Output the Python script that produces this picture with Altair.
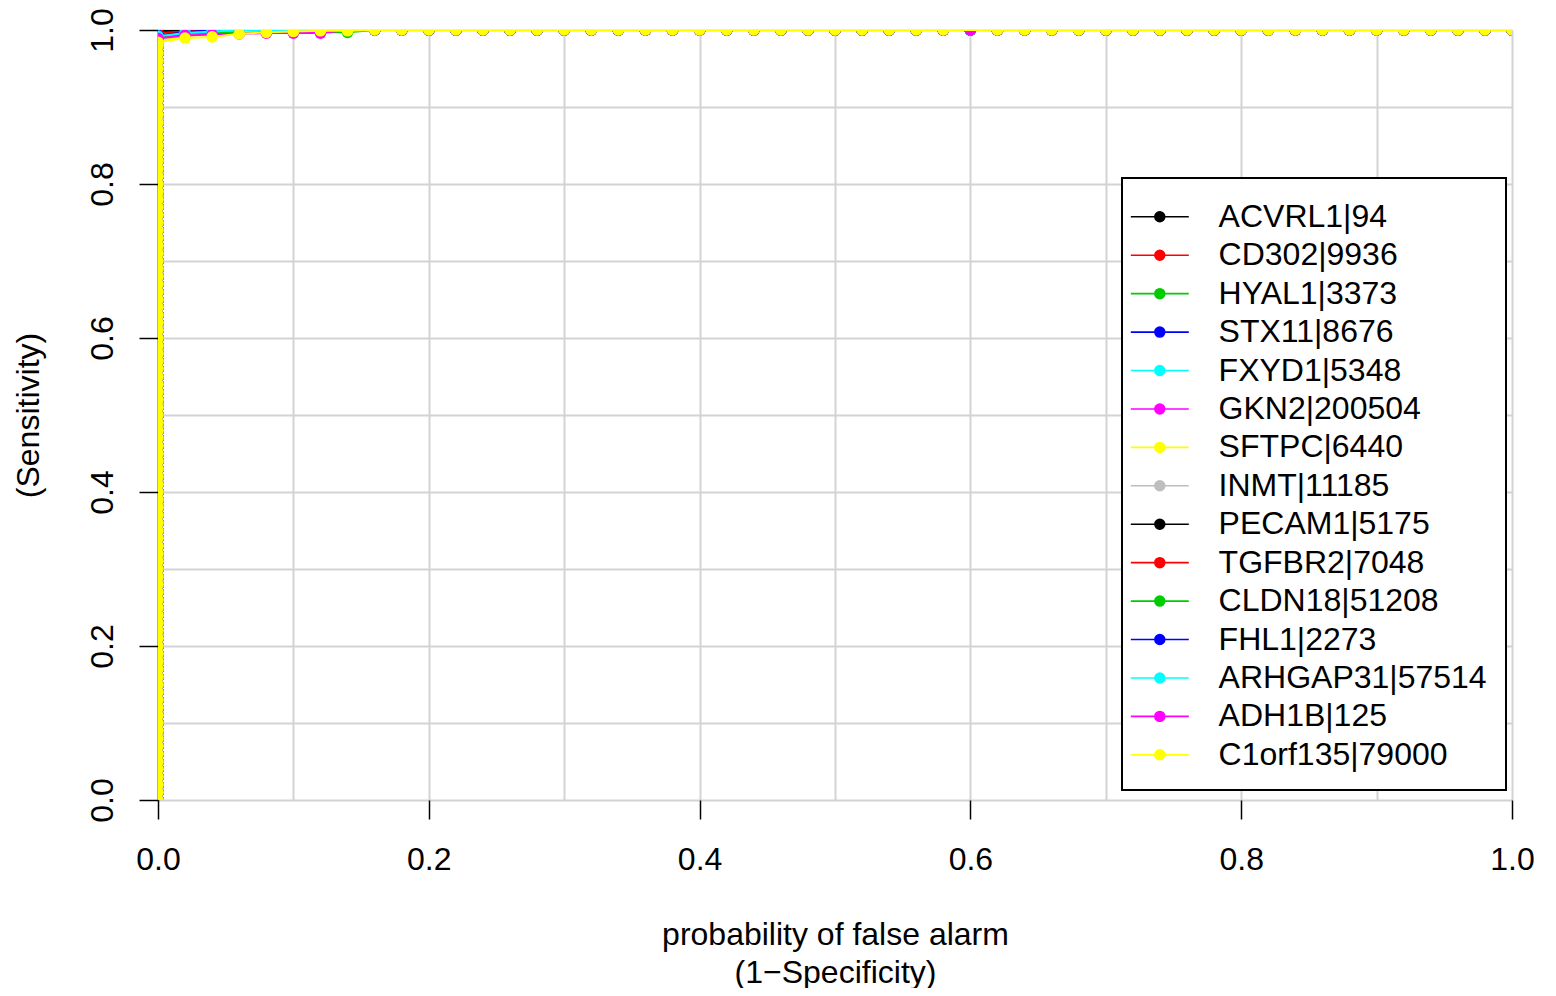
import altair as alt
import pandas as pd

FONT = "Liberation Sans"

NAMES = ["ACVRL1|94", "CD302|9936", "HYAL1|3373", "STX11|8676", "FXYD1|5348",
         "GKN2|200504", "SFTPC|6440", "INMT|11185", "PECAM1|5175", "TGFBR2|7048",
         "CLDN18|51208", "FHL1|2273", "ARHGAP31|57514", "ADH1B|125", "C1orf135|79000"]
COLORS = ["#000000", "#FF0000", "#00CD00", "#0000FF", "#00FFFF", "#FF00FF", "#FFFF00",
          "#BEBEBE", "#000000", "#FF0000", "#00CD00", "#0000FF", "#00FFFF", "#FF00FF", "#FFFF00"]

# false-alarm steps of the cutoffs after the first one
FPR_STEPS = [0.02, 0.04, 0.06, 0.08, 0.10, 0.12, 0.14, 0.16, 0.18, 0.20,
             0.22, 0.24, 0.26, 0.28, 0.30, 0.32, 0.34, 0.36, 0.38, 0.40,
             0.42, 0.44, 0.46, 0.48, 0.50, 0.52, 0.54, 0.56, 0.58, 0.60,
             0.62, 0.64, 0.66, 0.68, 0.70, 0.72, 0.74, 0.76, 0.78, 0.80,
             0.82, 0.84, 0.86, 0.88, 0.90, 0.92, 0.94, 0.96, 0.98, 1.00]

# cutoffs with no false alarm (the solid band along x = 0)
TPR_VERTICAL = [0.00, 0.01, 0.02, 0.03, 0.04, 0.05, 0.06, 0.07, 0.08, 0.09,
                0.10, 0.11, 0.12, 0.13, 0.14, 0.15, 0.16, 0.17, 0.18, 0.19,
                0.20, 0.21, 0.22, 0.23, 0.24, 0.25, 0.26, 0.27, 0.28, 0.29,
                0.30, 0.31, 0.32, 0.33, 0.34, 0.35, 0.36, 0.37, 0.38, 0.39,
                0.40, 0.41, 0.42, 0.43, 0.44, 0.45, 0.46, 0.47, 0.48, 0.49,
                0.50, 0.51, 0.52, 0.53, 0.54, 0.55, 0.56, 0.57, 0.58, 0.59,
                0.60, 0.61, 0.62, 0.63, 0.64, 0.65, 0.66, 0.67, 0.68, 0.69,
                0.70, 0.71, 0.72, 0.73, 0.74, 0.75, 0.76, 0.77, 0.78, 0.79,
                0.80, 0.81, 0.82, 0.83, 0.84, 0.85, 0.86, 0.87, 0.88, 0.89,
                0.90, 0.91, 0.92, 0.93, 0.94, 0.95, 0.96, 0.97, 0.98]

# sensitivity reached at false alarm 0 for each series
TOP_AT_ZERO = [0.998, 0.994, 0.992, 0.995, 0.994, 0.990, 0.986, 0.993,
               0.998, 0.996, 0.991, 0.993, 0.992, 0.989, 0.984]

# sensitivity at the first FPR steps; afterwards the curves sit on 1.0
EARLY = {
    "ACVRL1|94": [1.0],
    "CD302|9936": [0.997, 0.998, 0.998, 0.999],
    "HYAL1|3373": [0.995, 0.997, 0.998],
    "STX11|8676": [0.999],
    "FXYD1|5348": [0.998],
    "GKN2|200504": [0.994, 0.996, 0.997, 0.998],
    "SFTPC|6440": [0.992, 0.995, 0.997],
    "INMT|11185": [0.997, 0.999],
    "PECAM1|5175": [1.0],
    "TGFBR2|7048": [0.998],
    "CLDN18|51208": [0.995, 0.996, 0.996, 0.997, 0.997, 0.997, 0.997],
    "FHL1|2273": [0.997],
    "ARHGAP31|57514": [0.996, 0.998],
    "ADH1B|125": [0.993, 0.994, 0.995, 0.996, 0.996, 0.996],
    "C1orf135|79000": [0.9896, 0.991, 0.995, 0.997, 0.998, 0.999, 0.999],
}
PLATEAU = 1.0
MISSING = {"C1orf135|79000": [0.60]}

GRID_VALUES = [0.0, 0.1, 0.2, 0.3, 0.4, 0.5, 0.6, 0.7, 0.8, 0.9, 1.0]

X_TITLE = ["probability of false alarm", "(1\u2212Specificity)"]
Y_TITLE = ["probability of detection", "(Sensitivity)"]

rows = []
for i, name in enumerate(NAMES):
    step = 0
    vert = [v for v in TPR_VERTICAL if v < TOP_AT_ZERO[i]] + [TOP_AT_ZERO[i]]
    for v in vert:
        rows.append({"series": name, "fpr": 0.0, "tpr": v, "step": step})
        step += 1
    early = EARLY[name]
    for k, f in enumerate(FPR_STEPS):
        if f in MISSING.get(name, []):
            continue
        t = early[k] if k < len(early) else PLATEAU
        rows.append({"series": name, "fpr": f, "tpr": t, "step": step})
        step += 1
df = pd.DataFrame(rows)

even_test = "round(datum.value * 10) % 2 == 0"
label_expr = f"{even_test} ? format(datum.value, '.1f') : ''"
tick_opacity = {"condition": {"test": f"!({even_test})", "value": 0}, "value": 1}

common_axis = dict(
    values=GRID_VALUES, labelExpr=label_expr, tickOpacity=tick_opacity,
    grid=True, gridColor="#D3D3D3", gridWidth=2,
    tickSize=19, tickWidth=1.5, tickColor="black",
    labelFont=FONT, labelFontSize=32, labelColor="black",
    labelFlush=False, labelOverlap=False,
    titleFont=FONT, titleFontSize=32, titleFontWeight="normal", titleColor="black",
    titleLineHeight=38,
)

x_enc = alt.X("fpr:Q", scale=alt.Scale(domain=[0, 1], nice=False, zero=False),
              axis=alt.Axis(**common_axis, domain=False, labelPadding=25,
                            title=X_TITLE, titleX=677, titleY=119,
                            titleAlign="center", titleBaseline="top"))
y_enc = alt.Y("tpr:Q", scale=alt.Scale(domain=[0, 1], nice=False, zero=False),
              axis=alt.Axis(**common_axis, domain=True, domainColor="black", domainWidth=1.5,
                            labelAngle=270, labelAlign="center", labelBaseline="bottom",
                            labelPadding=20,
                            title=Y_TITLE, titleAngle=270, titleX=-151, titleY=385,
                            titleAlign="center", titleBaseline="bottom"))

cscale = alt.Scale(domain=NAMES, range=COLORS)
# legend key: a line with a dot in its middle
SYMBOL = ("M-1.51,0L1.51,0"
          "M0.257,0A0.257,0.257,0,1,1,-0.257,0A0.257,0.257,0,1,1,0.257,0Z")
legend = alt.Legend(title=None, orient="none", legendX=964, legendY=148,
                    symbolType=SYMBOL, symbolSize=1474.56, symbolStrokeWidth=1.6,
                    symbolOpacity=1, symbolOffset=-1,
                    labelFont=FONT, labelFontSize=32, labelColor="black", labelOffset=38.8,
                    labelLimit=0,
                    padding=18.8, rowPadding=2.43,
                    strokeColor="black", fillColor="white")

base = alt.Chart(df)
layers = []
for name in NAMES:
    sub = base.transform_filter(alt.datum.series == name)
    line = sub.mark_line(strokeWidth=2, clip=True).encode(
        x=x_enc, y=y_enc,
        stroke=alt.Stroke("series:N", scale=cscale, legend=legend),
        order=alt.Order("step:Q"),
    )
    pts = sub.mark_circle(size=136, opacity=1, clip=True).encode(
        x=x_enc, y=y_enc,
        fill=alt.Fill("series:N", scale=cscale, legend=legend),
    )
    layers += [line, pts]

chart = alt.layer(*layers).properties(
    width=1354, height=770,
    autosize=alt.AutoSizeParams(type="none"),
    padding={"left": 150, "top": 22, "right": 30, "bottom": 188},
    background="white",
).configure_view(stroke=None).configure_legend(strokeWidth=2)

chart.save("out.html", embed_options={"renderer": "svg", "actions": False})
